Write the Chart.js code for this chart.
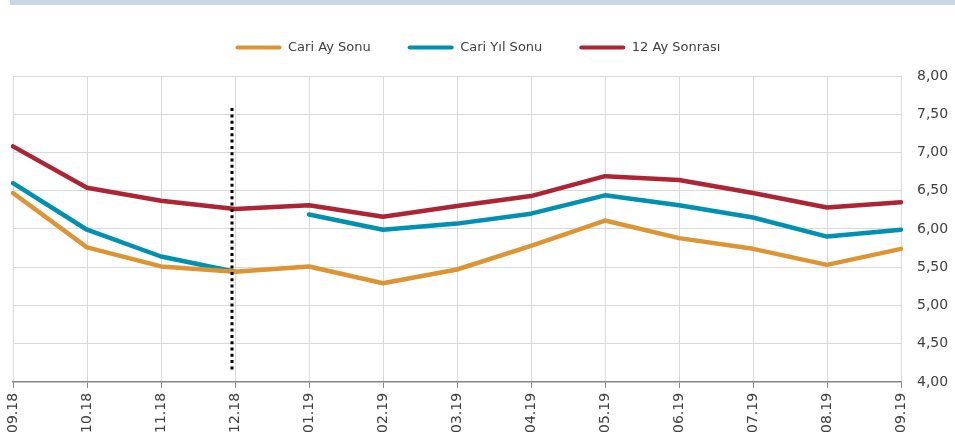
<!DOCTYPE html>
<html><head><meta charset="utf-8">
<script src="https://cdn.jsdelivr.net/npm/chart.js@4/dist/chart.umd.min.js"></script>
<style>
html,body{margin:0;padding:0;background:#fff;}
#band{position:absolute;left:10px;top:0;width:945px;height:5px;background:#c9d6e3;}
#wrap{position:absolute;left:0;top:0;width:955px;height:443px;}
</style></head>
<body>
<div id="band"></div>
<div id="wrap"><canvas id="c" width="955" height="443"></canvas></div>
<script>
const categories = ['09.18','10.18','11.18','12.18','01.19','02.19','03.19','04.19','05.19','06.19','07.19','08.19','09.19'];
const cariAySonu  = [6.47,5.76,5.51,5.44,5.51,5.29,5.47,5.78,6.11,5.88,5.74,5.53,5.74];
const cariYilSonu = [6.60,5.99,5.64,5.44,6.19,5.99,6.07,6.20,6.44,6.31,6.15,5.90,5.99];
const onikiAySonrasi = [7.08,6.54,6.37,6.26,6.31,6.16,6.30,6.43,6.69,6.64,6.47,6.28,6.35];
const seriesNames = ['Cari Ay Sonu','Cari Yıl Sonu','12 Ay Sonrası'];
const yTicks = [4,4.5,5,5.5,6,6.5,7,7.5,8];
const markerCategory = '12.18';
const markerRange = [7.58, 4.14];
const yilSonuBreakAfter = '12.18';

const colors = ['#dd9534','#0090b0','#ad2535'];
const FONT = "'DejaVu Sans', sans-serif";

const markerPlugin = {
  id:'marker',
  afterDatasetsDraw(chart){
    const x = chart.scales.x.getPixelForValue(categories.indexOf(markerCategory)) - 3;
    const y1 = chart.scales.y.getPixelForValue(markerRange[0]);
    const y2 = chart.scales.y.getPixelForValue(markerRange[1]);
    const ctx = chart.ctx;
    ctx.save();
    ctx.strokeStyle = '#000';
    ctx.lineWidth = 3;
    ctx.setLineDash([3,3.3]);
    ctx.beginPath(); ctx.moveTo(x,y1); ctx.lineTo(x,y2); ctx.stroke();
    ctx.restore();
  }
};

const legendSpace = {
  id:'legendSpace',
  beforeLayout(chart){
    const lg = chart.legend;
    if (lg && !lg._patched){
      const orig = lg.fit;
      lg.fit = function(){ orig.call(this); this.height += 12; };
      lg._patched = true;
    }
  },
  afterLayout(chart){
    const lg = chart.legend;
    if (lg){ lg.left -= 6; lg.right -= 6; }
  }
};

const breakIdx = categories.indexOf(yilSonuBreakAfter);
const mk = (label, data, color, extra) => Object.assign({
  label, data, borderColor: color, backgroundColor: color,
  borderWidth: 4.5, pointRadius: 0, tension: 0, fill:false,
  borderCapStyle:'round', borderJoinStyle:'round'
}, extra||{});

new Chart(document.getElementById('c'), {
  type:'line',
  data:{
    labels: categories,
    datasets:[
      mk(seriesNames[0], cariAySonu, colors[0]),
      mk(seriesNames[1], cariYilSonu, colors[1], {segment:{borderColor: ctx => ctx.p0DataIndex===breakIdx ? 'rgba(0,0,0,0)' : undefined}}),
      mk(seriesNames[2], onikiAySonrasi, colors[2])
    ]
  },
  options:{
    responsive:false, animation:false,
    layout:{padding:{top:4,left:13,right:0,bottom:5}},
    plugins:{
      legend:{
        position:'top',
        labels:{
          color:'#404040', font:{family:FONT,size:13},
          boxWidth:46, boxHeight:4, useBorderRadius:true, borderRadius:2,
          padding:37,
          generateLabels(chart){
            return chart.data.datasets.map((d,i)=>({text:d.label, fillStyle:d.borderColor, strokeStyle:d.borderColor, lineWidth:0, datasetIndex:i, fontColor:'#404040', borderRadius:2}));
          }
        }
      },
      tooltip:{enabled:false}
    },
    scales:{
      x:{
        offset:false,
        grid:{color:'#d9d9d9', lineWidth:1, tickColor:'#868686', tickLength:6, drawOnChartArea:true},
        border:{color:'#868686', width:1.5},
        ticks:{color:'#404040', font:{family:FONT,size:14}, minRotation:90, maxRotation:90, padding:5, autoSkip:false}
      },
      y:{
        position:'right', min:4, max:8,
        afterBuildTicks(axis){ axis.ticks = yTicks.map(v=>({value:v})); },
        afterFit(axis){ axis.width = 54; },
        grid:{color:'#d9d9d9', lineWidth:1, drawTicks:false},
        border:{display:false},
        ticks:{color:'#404040', font:{family:FONT,size:14}, padding:16,
          callback:v=>Number(v).toFixed(2).replace('.',',')}
      }
    }
  },
  plugins:[markerPlugin, legendSpace]
});
</script>
</body></html>
